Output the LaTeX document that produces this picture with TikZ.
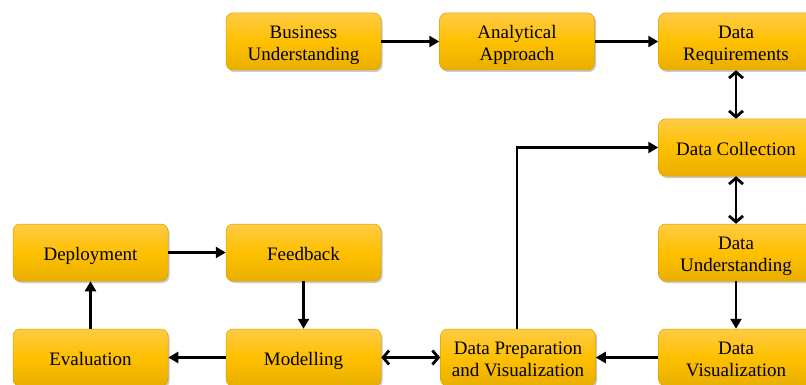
\documentclass[tikz,border=0pt]{standalone}
\usepackage{fontspec}
\setmainfont{Liberation Serif}
\usetikzlibrary{arrows.meta,shadows,positioning}
\definecolor{boxtop}{HTML}{FFCB45}
\definecolor{boxmid}{HTML}{FFC000}
\definecolor{boxbot}{HTML}{E9AF00}
\definecolor{boxline}{HTML}{D9A200}
\newcommand{\boxtxt}[1]{\raisebox{-7.6pt}[0pt][0pt]{\begin{tabular}[c]{@{}c@{}}#1\end{tabular}}}
\tikzset{
  stepbox/.style={rectangle, rounded corners=7pt, minimum width=155pt, minimum height=57pt,
    inner sep=0pt, align=center, draw=boxline, line width=0.5pt,
    top color=boxtop, bottom color=boxbot, middle color=boxmid,
    font=\fontsize{19}{22}\selectfont, text=black,
    drop shadow={shadow xshift=1.5pt, shadow yshift=-2pt, opacity=0.35, fill=black!60}},
  onearrow/.style={line width=2.8pt, arrows={-Triangle[length=10pt,width=11pt]}},
  twoarrow/.style={line width=2.8pt, arrows={Straight Barb[length=6pt,width=14pt,line width=2.8pt]-Straight Barb[length=6pt,width=14pt,line width=2.8pt]}}
}
\begin{document}
\begin{tikzpicture}[x=1pt,y=-1pt]
\useasboundingbox (0,0) rectangle (806,385);
\node[stepbox] (bu) at (303.5,41.5) {\boxtxt{Business\\Understanding}};
\node[stepbox] (aa) at (517,41.5) {\boxtxt{Analytical\\Approach}};
\node[stepbox] (dr) at (736,41.5) {\boxtxt{Data\\Requirements}};
\node[stepbox] (dc) at (736,147.5) {\boxtxt{Data Collection}};
\node[stepbox] (du) at (736,252.5) {\boxtxt{Data\\Understanding}};
\node[stepbox] (dv) at (736,357.5) {\boxtxt{Data\\Visualization}};
\node[stepbox] (dp) at (518,357.5) {\boxtxt{Data Preparation\\and Visualization}};
\node[stepbox] (mo) at (303.5,357.5) {\boxtxt{Modelling}};
\node[stepbox] (ev) at (90.5,357.5) {\boxtxt{Evaluation}};
\node[stepbox] (de) at (90.5,252.5) {\boxtxt{Deployment}};
\node[stepbox] (fe) at (303.5,252.5) {\boxtxt{Feedback}};
\draw[onearrow] (bu) -- (aa);
\draw[onearrow] (aa) -- (dr);
\draw[twoarrow] (dr) -- (dc);
\draw[twoarrow] (dc) -- (du);
\draw[onearrow] (du) -- (dv);
\draw[onearrow] (dv) -- (dp);
\draw[onearrow] ([xshift=-1pt]dp.north) |- (dc.west);
\draw[twoarrow] (mo) -- (dp);
\draw[onearrow] (mo) -- (ev);
\draw[onearrow] (ev) -- (de);
\draw[onearrow] (de) -- (fe);
\draw[onearrow] (fe) -- (mo);
\end{tikzpicture}
\end{document}
